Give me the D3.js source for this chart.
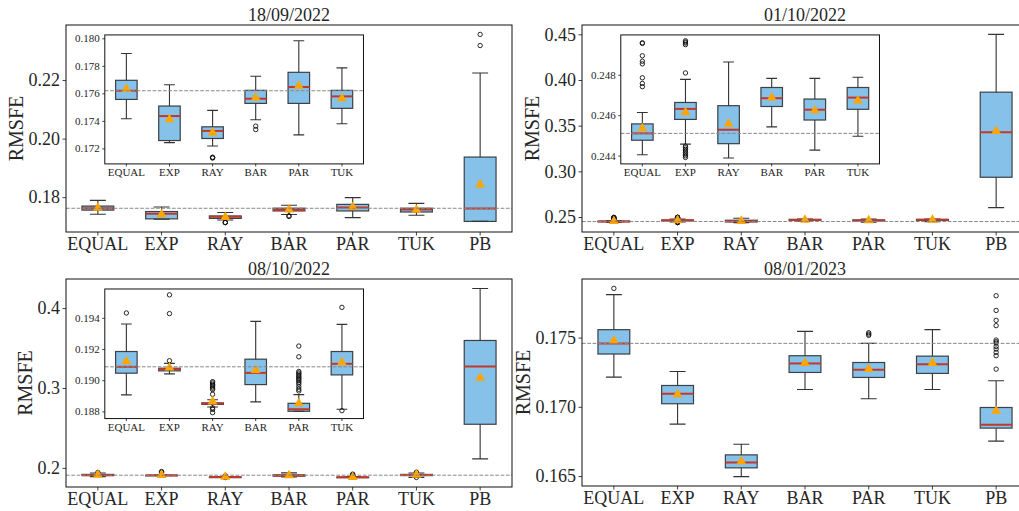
<!DOCTYPE html>
<html>
<head>
<meta charset="utf-8">
<script src="https://cdn.jsdelivr.net/npm/d3@7"></script>
<style>
  body { margin: 0; background: #fff; }
</style>
</head>
<body>
<div id="chart"></div>
<script>
// methods, in plotting order (the insets use the first six)
const methods = ["EQUAL", "EXP", "RAY", "BAR", "PAR", "TUK", "PB"];
const titles = ["18/09/2022", "01/10/2022", "08/10/2022", "08/01/2023"];

// 18/09/2022
const a_lo   = [0.17415, 0.17242, 0.17218, 0.17408, 0.17298, 0.17379, 0.1717];
const a_q1   = [0.17556, 0.17257, 0.17272, 0.17527, 0.17527, 0.17491, 0.1717];
const a_med  = [0.17619, 0.17435, 0.17327, 0.17561, 0.17646, 0.17578, 0.1761];
const a_q3   = [0.17695, 0.17508, 0.17357, 0.17622, 0.17753, 0.17622, 0.1937];
const a_hi   = [0.17890, 0.17663, 0.17476, 0.17724, 0.17982, 0.17785, 0.2224];
const a_mean = [0.17630, 0.17410, 0.17315, 0.17568, 0.17654, 0.17564, 0.1843];
const a_out  = [[], [], [0.17130, 0.17133, 0.17136], [0.17337, 0.17362], [], [], [0.2318, 0.2356]];

// 01/10/2022
const b_lo   = [0.24404, 0.24457, 0.24388, 0.24542, 0.24427, 0.24496, 0.2603];
const b_q1   = [0.24476, 0.24579, 0.24459, 0.24643, 0.24576, 0.24629, 0.2935];
const b_med  = [0.24510, 0.24631, 0.24528, 0.24684, 0.24627, 0.24687, 0.3428];
const b_q3   = [0.24557, 0.24663, 0.24647, 0.24737, 0.24680, 0.24737, 0.3867];
const b_hi   = [0.24613, 0.24777, 0.24863, 0.24782, 0.24782, 0.24788, 0.4499];
const b_mean = [0.24534, 0.24614, 0.24557, 0.24687, 0.24624, 0.24672, 0.3439];
const b_out  = [
  [0.24741, 0.24757, 0.24785, 0.24854, 0.24867, 0.24894, 0.24955, 0.24958],
  [0.24809, 0.24949, 0.24957, 0.24962, 0.24968, 0.24447, 0.24439, 0.24431, 0.24423, 0.24415, 0.24407, 0.24399, 0.24391],
  [], [], [], [], []
];

// 08/10/2022
const c_lo   = [0.18906, 0.19041, 0.18828, 0.18861, 0.18801, 0.18814, 0.2113];
const c_q1   = [0.19045, 0.19060, 0.18845, 0.18972, 0.18801, 0.19034, 0.2546];
const c_med  = [0.19086, 0.19071, 0.18850, 0.19047, 0.18814, 0.19105, 0.3268];
const c_q3   = [0.19184, 0.19077, 0.18855, 0.19135, 0.18852, 0.19184, 0.3595];
const c_hi   = [0.19360, 0.19108, 0.18875, 0.19377, 0.18908, 0.19358, 0.4246];
const c_mean = [0.19120, 0.19080, 0.18863, 0.19064, 0.18852, 0.19114, 0.3125];
const c_out  = [
  [0.19431],
  [0.19125, 0.19427, 0.19547],
  [0.18792, 0.18813, 0.18823, 0.1891, 0.1894, 0.18949, 0.18957, 0.18966, 0.18974, 0.18983, 0.18991],
  [],
  [0.18931, 0.18942, 0.18957, 0.18974, 0.18985, 0.18996, 0.19004, 0.19013, 0.19021, 0.1903, 0.19039, 0.19047, 0.19056, 0.1915, 0.19219],
  [0.18805, 0.19467],
  []
];

// 08/01/2023
const d_lo   = [0.17214, 0.16875, 0.16496, 0.17125, 0.17058, 0.17125, 0.16752];
const d_q1   = [0.17381, 0.17022, 0.16559, 0.17248, 0.17212, 0.17241, 0.16846];
const d_med  = [0.17458, 0.17094, 0.16598, 0.17313, 0.17267, 0.17308, 0.16870];
const d_q3   = [0.17557, 0.17154, 0.16653, 0.17369, 0.17320, 0.17366, 0.16995];
const d_hi   = [0.17810, 0.17255, 0.16730, 0.17545, 0.17458, 0.17557, 0.17188];
const d_mean = [0.17477, 0.17089, 0.16605, 0.17316, 0.17272, 0.17316, 0.16971];
const d_out  = [
  [0.17855], [], [], [],
  [0.17516, 0.17525, 0.17535],
  [],
  [0.17272, 0.17369, 0.17393, 0.17417, 0.17436, 0.1746, 0.1747, 0.17482, 0.17586, 0.17624, 0.17696, 0.17802]
];

// tick labels
const a_ticks = [0.18, 0.20, 0.22],              a_inset_ticks = [0.172, 0.174, 0.176, 0.178, 0.180];
const b_ticks = [0.25, 0.30, 0.35, 0.40, 0.45],  b_inset_ticks = [0.244, 0.246, 0.248];
const c_ticks = [0.2, 0.3, 0.4],                 c_inset_ticks = [0.188, 0.190, 0.192, 0.194];
const d_ticks = [0.165, 0.170, 0.175];

const FONT = "'Liberation Serif', 'Times New Roman', serif";

const panels = [
  {title: titles[0], lo: a_lo, q1: a_q1, med: a_med, q3: a_q3, hi: a_hi, mean: a_mean, out: a_out,
   ticks: a_ticks, fmt: ".2f", inset: a_inset_ticks, box: {x: 66, y: 25, w: 446, h: 207}},
  {title: titles[1], lo: b_lo, q1: b_q1, med: b_med, q3: b_q3, hi: b_hi, mean: b_mean, out: b_out,
   ticks: b_ticks, fmt: ".2f", inset: b_inset_ticks, box: {x: 582, y: 25, w: 446, h: 207}},
  {title: titles[2], lo: c_lo, q1: c_q1, med: c_med, q3: c_q3, hi: c_hi, mean: c_mean, out: c_out,
   ticks: c_ticks, fmt: ".1f", inset: c_inset_ticks, box: {x: 66, y: 279, w: 446, h: 208}},
  {title: titles[3], lo: d_lo, q1: d_q1, med: d_med, q3: d_q3, hi: d_hi, mean: d_mean, out: d_out,
   ticks: d_ticks, fmt: ".3f", inset: null, box: {x: 582, y: 279, w: 446, h: 207}}
];

var svg = d3.select("#chart")
  .append("svg")
  .attr("width", 1019)
  .attr("height", 511)
  .style("font-family", FONT);

// matplotlib-like autoscale: data extent plus 5% margins
function yDomain(p, n) {
  var vals = [];
  for (var i = 0; i < n; i++) vals.push(p.lo[i], p.hi[i], ...p.out[i]);
  var [a, b] = d3.extent(vals);
  var m = (b - a) * 0.05;
  return [a - m, b + m];
}

function drawBoxplot(parent, p, cats, box, o) {
  var g = parent.append("g").attr("transform", `translate(${box.x},${box.y})`);
  if (o.bg) g.append("rect").attr("width", box.w).attr("height", box.h).attr("fill", "#fff");

  var x = d3.scaleBand().domain(cats).range([0, box.w]);
  var y = d3.scaleLinear().domain(yDomain(p, cats.length)).range([box.h, 0]);
  var bw = x.bandwidth() * 0.5;
  var cx = c => x(c) + x.bandwidth() / 2;

  var rows = cats.map((c, i) => ({c: c, lo: p.lo[i], q1: p.q1[i], med: p.med[i], q3: p.q3[i],
                                   hi: p.hi[i], mean: p.mean[i], out: p.out[i]}));

  var b = g.append("g").selectAll("g").data(rows).join("g");

  b.append("rect")
    .attr("x", d => cx(d.c) - bw / 2)
    .attr("y", d => y(d.q3))
    .attr("width", bw)
    .attr("height", d => Math.max(0.6, y(d.q1) - y(d.q3)))
    .attr("fill", "#85c1e9")
    .attr("stroke", "#262626")
    .attr("stroke-opacity", 0.85)
    .attr("stroke-width", 1.2);

  b.append("path")
    .attr("d", d => `M${cx(d.c)},${y(d.q3)}V${y(d.hi)}M${cx(d.c)},${y(d.q1)}V${y(d.lo)}` +
                    `M${cx(d.c) - bw / 4},${y(d.hi)}h${bw / 2}M${cx(d.c) - bw / 4},${y(d.lo)}h${bw / 2}`)
    .attr("fill", "none")
    .attr("stroke", "#333")
    .attr("stroke-width", 1.1);

  b.append("line")
    .attr("x1", d => cx(d.c) - bw / 2)
    .attr("x2", d => cx(d.c) + bw / 2)
    .attr("y1", d => y(d.med))
    .attr("y2", d => y(d.med))
    .attr("stroke", "#c0392b")
    .attr("stroke-width", 2);

  b.selectAll("circle")
    .data(d => d.out.map(v => ({c: d.c, v: v})))
    .join("circle")
    .attr("cx", d => cx(d.c))
    .attr("cy", d => y(d.v))
    .attr("r", 2.2)
    .attr("fill", "none")
    .attr("stroke", "#111")
    .attr("stroke-width", 0.9);

  b.append("path")
    .attr("d", d3.symbol(d3.symbolTriangle, 42))
    .attr("transform", d => `translate(${cx(d.c)},${y(d.mean)})`)
    .attr("fill", "#ffa500");

  // reference line at the EQUAL median
  g.append("line")
    .attr("x1", 0).attr("x2", box.w)
    .attr("y1", y(p.med[0])).attr("y2", y(p.med[0]))
    .attr("stroke", "#888")
    .attr("stroke-width", 1)
    .attr("stroke-dasharray", "3.7,1.6");

  g.append("rect")
    .attr("width", box.w).attr("height", box.h)
    .attr("fill", "none").attr("stroke", "#111").attr("stroke-width", 1);

  var gx = g.append("g")
    .attr("transform", `translate(0,${box.h})`)
    .call(d3.axisBottom(x).tickSize(o.tl).tickPadding(o.pad).tickSizeOuter(0));
  var gy = g.append("g")
    .call(d3.axisLeft(y).tickValues(o.ticks).tickFormat(d3.format(o.fmt))
      .tickSize(o.tl).tickPadding(o.pad + 0.5).tickSizeOuter(0));

  [gx, gy].forEach(a => {
    a.attr("font-family", FONT).attr("font-size", o.fs);
    a.select(".domain").remove();
    a.selectAll("line").attr("stroke", "#111").attr("stroke-width", 0.8);
    a.selectAll("text").attr("fill", "#262626");
  });

  if (o.ylabel) {
    var bb = gy.node().getBBox();
    g.append("text")
      .attr("transform", `translate(${bb.x - 6},${box.h / 2}) rotate(-90)`)
      .attr("text-anchor", "middle")
      .attr("font-size", 20)
      .attr("fill", "#262626")
      .text(o.ylabel);
  }
  if (o.title) {
    g.append("text")
      .attr("x", box.w / 2)
      .attr("y", -4)
      .attr("text-anchor", "middle")
      .attr("font-size", 18)
      .attr("fill", "#262626")
      .text(o.title);
  }
}

panels.forEach(p => {
  drawBoxplot(svg, p, methods, p.box,
    {fs: 18, tl: 3.5, pad: 2, ticks: p.ticks, fmt: p.fmt, ylabel: "RMSFE", title: p.title});
  if (p.inset) {
    var ib = {x: p.box.x + p.box.w * 0.087, y: p.box.y + p.box.h * 0.048,
              w: p.box.w * 0.58, h: p.box.h * 0.623};
    drawBoxplot(svg, p, methods.slice(0, 6), ib,
      {fs: 11, tl: 2.5, pad: 2, ticks: p.inset, fmt: ".3f", bg: true});
  }
});
</script>
</body>
</html>
